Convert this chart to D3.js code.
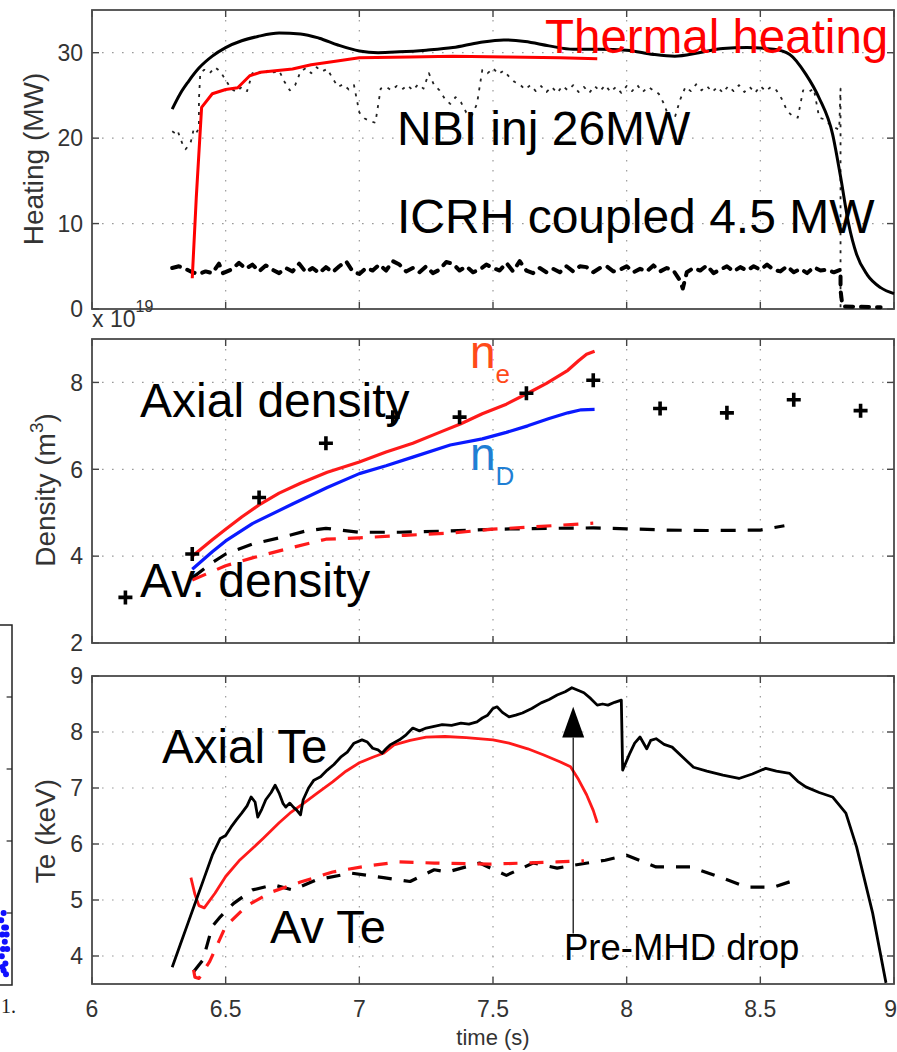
<!DOCTYPE html>
<html>
<head>
<meta charset="utf-8">
<script src="https://cdn.jsdelivr.net/npm/d3@7"></script>
<style>
body { margin: 0; background: #fff; }
svg text { font-family: "Liberation Sans", Arial, sans-serif; }
</style>
</head>
<body>
<div id="chart"></div>
<script>
// ---- data (time in s) ----
var timeTicks = [6, 6.5, 7, 7.5, 8, 8.5, 9];
var heatTicks = [0, 10, 20, 30];
var densTicks = [2, 4, 6, 8];
var teTicks = [4, 5, 6, 7, 8, 9];

// top panel: heating (MW)
var totalHeat = [[6.30,23.4],[6.33,25.2],[6.36,26.6],[6.40,28.2],[6.45,29.6],[6.50,30.6],[6.56,31.4],[6.62,31.9],[6.70,32.3],[6.78,32.2],[6.85,31.7],[6.92,30.9],[7.00,30.2],[7.07,30.0],[7.15,30.1],[7.25,30.3],[7.35,30.6],[7.45,31.2],[7.54,31.5],[7.62,31.3],[7.71,30.8],[7.80,30.4],[7.90,30.4],[8.00,30.3],[8.10,29.8],[8.18,29.6],[8.27,30.0],[8.36,30.5],[8.45,30.6],[8.55,30.4],[8.61,29.8],[8.67,27.5],[8.72,24.7],[8.77,20.5],[8.80,15.5],[8.83,10.0],[8.86,6.4],[8.90,4.0],[8.95,2.5],[9.00,1.8]];
var thermalHeat = [[6.375,3.6],[6.39,13.0],[6.41,23.6],[6.45,25.2],[6.50,25.7],[6.545,25.9],[6.59,27.3],[6.63,27.7],[6.75,28.1],[6.82,28.6],[6.93,29.1],[7.00,29.4],[7.19,29.5],[7.35,29.6],[7.55,29.5],[7.75,29.4],[7.89,29.3]];
var nbiInj = [[6.30,20.8],[6.31,20.6],[6.32,20.9],[6.33,20.0],[6.34,19.2],[6.35,18.7],[6.36,19.1],[6.37,19.6],[6.38,21.0],[6.39,20.6],[6.40,21.2],[6.40,24.5],[6.405,27.6],[6.42,28.0],[6.44,27.6],[6.46,28.3],[6.48,27.8],[6.50,26.8],[6.52,25.8],[6.54,25.4],[6.56,26.0],[6.58,25.5],[6.60,27.6],[6.62,27.9],[6.64,27.4],[6.66,28.0],[6.68,27.7],[6.70,27.9],[6.72,26.6],[6.74,25.6],[6.76,26.2],[6.78,27.8],[6.80,28.2],[6.82,27.6],[6.84,28.3],[6.86,27.8],[6.88,28.1],[6.90,27.0],[6.92,26.0],[6.94,26.3],[6.96,25.7],[6.98,26.2],[7.00,23.0],[7.02,22.3],[7.04,22.0],[7.06,21.8],[7.08,25.8],[7.10,26.0],[7.12,25.6],[7.14,26.1],[7.16,25.7],[7.18,26.2],[7.20,25.6],[7.22,26.3],[7.24,25.8],[7.26,27.6],[7.28,26.2],[7.30,25.6],[7.32,24.6],[7.34,24.0],[7.36,24.8],[7.38,24.2],[7.40,23.0],[7.42,22.6],[7.44,24.0],[7.46,28.0],[7.48,27.6],[7.50,28.2],[7.52,27.5],[7.54,27.9],[7.56,27.2],[7.58,26.6],[7.60,26.3],[7.62,25.7],[7.64,26.2],[7.66,25.5],[7.68,26.1],[7.70,25.4],[7.72,26.0],[7.74,25.3],[7.76,26.1],[7.78,25.6],[7.80,26.2],[7.82,25.4],[7.84,26.0],[7.86,25.3],[7.88,26.1],[7.90,25.5],[7.92,26.2],[7.94,25.4],[7.96,26.0],[7.98,25.3],[8.00,26.1],[8.02,25.5],[8.04,26.2],[8.06,25.4],[8.08,26.0],[8.10,25.6],[8.12,25.2],[8.14,24.0],[8.16,22.2],[8.18,22.4],[8.20,24.5],[8.22,26.0],[8.24,25.5],[8.26,26.3],[8.28,25.6],[8.30,26.1],[8.32,25.4],[8.34,26.0],[8.36,25.3],[8.38,26.1],[8.40,25.5],[8.42,26.2],[8.44,25.4],[8.46,26.0],[8.48,25.3],[8.50,26.1],[8.52,25.5],[8.54,26.0],[8.56,25.6],[8.58,24.6],[8.60,23.2],[8.62,22.6],[8.64,22.4],[8.66,25.6],[8.68,25.4],[8.70,25.8],[8.72,22.4],[8.74,22.2],[8.76,21.6],[8.78,21.2],[8.795,21.0],[8.80,25.8],[8.80,0.2]];
var icrhCoupled = [[6.30,4.8],[6.325,5.0],[6.35,4.7],[6.375,4.3],[6.40,4.1],[6.425,4.4],[6.45,4.2],[6.475,5.3],[6.49,4.2],[6.52,4.6],[6.55,5.4],[6.575,4.7],[6.60,5.2],[6.625,4.4],[6.65,5.1],[6.675,4.6],[6.70,4.2],[6.725,4.8],[6.75,4.4],[6.775,5.3],[6.80,4.3],[6.825,4.8],[6.85,4.2],[6.875,4.9],[6.90,4.3],[6.925,5.0],[6.95,5.6],[6.975,4.4],[7.00,4.1],[7.025,4.8],[7.05,4.5],[7.075,5.2],[7.10,4.5],[7.125,5.6],[7.15,5.2],[7.175,4.4],[7.20,4.8],[7.225,4.3],[7.25,5.0],[7.275,4.2],[7.30,4.6],[7.325,5.5],[7.35,5.3],[7.375,4.5],[7.40,5.0],[7.425,4.3],[7.45,4.6],[7.475,5.2],[7.50,4.8],[7.525,4.5],[7.55,5.4],[7.575,4.4],[7.60,5.6],[7.625,4.5],[7.65,4.2],[7.675,4.8],[7.70,4.3],[7.725,4.7],[7.75,4.3],[7.775,5.0],[7.80,4.4],[7.825,5.0],[7.85,4.9],[7.875,4.3],[7.90,4.8],[7.925,5.0],[7.95,4.4],[7.975,4.6],[8.00,5.0],[8.025,4.3],[8.05,4.7],[8.075,4.4],[8.10,5.1],[8.125,4.4],[8.15,4.8],[8.175,4.5],[8.20,3.3],[8.21,2.4],[8.225,4.3],[8.25,4.8],[8.275,4.5],[8.30,5.1],[8.325,4.2],[8.35,4.6],[8.375,5.0],[8.40,4.4],[8.425,4.9],[8.45,4.5],[8.475,5.0],[8.50,4.6],[8.525,5.2],[8.55,4.6],[8.575,4.4],[8.60,5.0],[8.625,4.3],[8.65,4.7],[8.675,4.2],[8.70,4.9],[8.725,4.5],[8.75,4.6],[8.775,4.3],[8.80,4.6],[8.80,2.2],[8.805,0.9],[8.81,0.3],[8.95,0.2]];

// middle panel: density (1e19 m^-3)
var neAxial = [[6.375,4.0],[6.45,4.38],[6.5,4.62],[6.56,4.9],[6.625,5.18],[6.7,5.45],[6.78,5.68],[6.88,5.93],[7.0,6.17],[7.1,6.4],[7.2,6.6],[7.3,6.85],[7.38,7.05],[7.46,7.28],[7.55,7.5],[7.63,7.75],[7.7,7.98],[7.78,8.28],[7.82,8.5],[7.85,8.65],[7.88,8.72]];
var nDAxial = [[6.375,3.7],[6.45,4.1],[6.5,4.35],[6.6,4.75],[6.75,5.2],[6.88,5.58],[7.0,5.9],[7.1,6.08],[7.2,6.28],[7.34,6.56],[7.46,6.7],[7.55,6.85],[7.63,7.0],[7.71,7.17],[7.78,7.3],[7.83,7.37],[7.88,7.38]];
var avDensBlack = [[6.375,3.5],[6.45,3.85],[6.5,4.05],[6.6,4.28],[6.72,4.45],[6.8,4.58],[6.875,4.64],[7.0,4.55],[7.15,4.55],[7.34,4.58],[7.5,4.62],[7.7,4.64],[7.875,4.65],[8.0,4.63],[8.15,4.6],[8.3,4.59],[8.5,4.6],[8.59,4.7]];
var avDensRed = [[6.375,3.45],[6.5,3.78],[6.6,3.96],[6.75,4.2],[6.875,4.39],[7.0,4.42],[7.17,4.48],[7.34,4.53],[7.5,4.62],[7.72,4.7],[7.875,4.76]];
var crossTime = [6.125, 6.375, 6.625, 6.875, 7.125, 7.375, 7.625, 7.875, 8.125, 8.375, 8.625, 8.875];
var crossDens = [3.05, 4.05, 5.35, 6.6, 7.2, 7.2, 7.75, 8.05, 7.4, 7.3, 7.6, 7.35];

// bottom panel: Te (keV)
var teAxial = [[6.30,3.8],[6.33,4.2],[6.36,4.6],[6.39,5.0],[6.42,5.4],[6.45,5.8],[6.48,6.1],[6.50,6.15],[6.52,6.3],[6.54,6.43],[6.56,6.55],[6.58,6.68],[6.595,6.84],[6.61,6.75],[6.62,6.48],[6.635,6.62],[6.65,6.79],[6.67,6.92],[6.685,7.05],[6.70,6.91],[6.715,6.72],[6.725,6.66],[6.74,6.73],[6.755,6.65],[6.765,6.61],[6.78,6.52],[6.79,6.79],[6.81,7.0],[6.83,7.14],[6.855,7.2],[6.88,7.32],[6.905,7.42],[6.93,7.55],[6.955,7.64],[6.98,7.8],[7.01,7.86],[7.03,7.82],[7.05,7.71],[7.07,7.68],[7.085,7.62],[7.10,7.7],[7.115,7.77],[7.15,7.86],[7.175,7.95],[7.20,8.07],[7.225,8.02],[7.25,8.07],[7.28,8.1],[7.31,8.13],[7.345,8.12],[7.38,8.16],[7.41,8.14],[7.44,8.18],[7.46,8.25],[7.48,8.3],[7.50,8.42],[7.515,8.45],[7.535,8.35],[7.56,8.27],[7.585,8.3],[7.61,8.34],[7.645,8.42],[7.68,8.52],[7.71,8.58],[7.74,8.66],[7.77,8.72],[7.795,8.79],[7.82,8.74],[7.84,8.7],[7.865,8.6],[7.89,8.48],[7.91,8.5],[7.93,8.48],[7.955,8.53],[7.98,8.57],[7.985,7.32],[8.01,7.6],[8.03,7.8],[8.05,7.91],[8.075,7.7],[8.09,7.85],[8.11,7.88],[8.14,7.78],[8.17,7.73],[8.21,7.55],[8.25,7.37],[8.30,7.3],[8.36,7.23],[8.42,7.17],[8.47,7.25],[8.52,7.35],[8.56,7.3],[8.61,7.26],[8.64,7.12],[8.67,7.02],[8.72,6.92],[8.77,6.84],[8.82,6.55],[8.86,5.95],[8.92,4.77],[8.97,3.52]];
var teRed = [[6.37,5.4],[6.385,5.1],[6.40,4.9],[6.42,4.86],[6.46,5.12],[6.50,5.42],[6.55,5.7],[6.60,5.92],[6.64,6.1],[6.70,6.38],[6.74,6.55],[6.79,6.72],[6.84,6.9],[6.90,7.11],[6.95,7.3],[7.00,7.45],[7.05,7.55],[7.09,7.62],[7.13,7.77],[7.19,7.85],[7.25,7.91],[7.32,7.92],[7.40,7.9],[7.50,7.86],[7.56,7.8],[7.63,7.7],[7.69,7.59],[7.75,7.47],[7.79,7.38],[7.82,7.15],[7.85,6.88],[7.875,6.6],[7.89,6.38]];
var teAvBlack = [[6.38,3.72],[6.415,3.93],[6.45,4.53],[6.48,4.7],[6.53,4.94],[6.6,5.18],[6.68,5.27],[6.75,5.18],[6.84,5.36],[6.97,5.48],[7.09,5.4],[7.19,5.33],[7.28,5.54],[7.33,5.5],[7.45,5.66],[7.55,5.44],[7.65,5.66],[7.74,5.57],[7.8,5.62],[7.92,5.71],[8.0,5.8],[8.11,5.59],[8.24,5.59],[8.36,5.39],[8.45,5.23],[8.55,5.23],[8.62,5.34]];
var teAvRed = [[6.38,3.75],[6.385,3.62],[6.40,3.6],[6.44,3.9],[6.5,4.53],[6.58,4.9],[6.67,5.14],[6.78,5.32],[6.9,5.5],[7.03,5.61],[7.15,5.68],[7.28,5.66],[7.49,5.64],[7.74,5.68],[7.84,5.7]];
var mhdArrow = {time: 7.8, tip: 8.45, base: 7.9, foot: 4.4};

// ---- layout ----
var svgWidth = 897;
var svgHeight = 1052;
var left = 92, right = 894;

var svg = d3.select("#chart")
    .append("svg")
    .attr("width", svgWidth)
    .attr("height", svgHeight);

svg.append("rect")
    .attr("width", svgWidth)
    .attr("height", svgHeight)
    .attr("fill", "#fff");

var xScale = d3.scaleLinear().domain([6, 9]).range([left, right]);
var yHeat = d3.scaleLinear().domain([0, 35]).range([309, 10]);
var yDens = d3.scaleLinear().domain([2, 9]).range([643, 339]);
var yTe = d3.scaleLinear().domain([3.5, 9]).range([984, 676]);

function drawFrame(yScale, yTicks) {
    var top = yScale.range()[1], bottom = yScale.range()[0];
    var g = svg.append("g");
    // dotted grid
    timeTicks.filter(t => xScale(t) > left + 1 && xScale(t) < right - 1).forEach(function(t) {
        g.append("line")
            .attr("x1", xScale(t)).attr("x2", xScale(t))
            .attr("y1", top).attr("y2", bottom)
            .attr("stroke", "#9a9a9a").attr("stroke-width", 1.2)
            .attr("stroke-dasharray", "1.6,8.4");
    });
    yTicks.filter(v => yScale(v) > top + 1 && yScale(v) < bottom - 1).forEach(function(v) {
        g.append("line")
            .attr("x1", left).attr("x2", right)
            .attr("y1", yScale(v)).attr("y2", yScale(v))
            .attr("stroke", "#9a9a9a").attr("stroke-width", 1.2)
            .attr("stroke-dasharray", "1.6,8.4");
    });
    // inward ticks
    timeTicks.forEach(function(t) {
        g.append("line").attr("x1", xScale(t)).attr("x2", xScale(t))
            .attr("y1", bottom).attr("y2", bottom - 7).attr("stroke", "#444").attr("stroke-width", 1.4);
        g.append("line").attr("x1", xScale(t)).attr("x2", xScale(t))
            .attr("y1", top).attr("y2", top + 7).attr("stroke", "#444").attr("stroke-width", 1.4);
    });
    yTicks.forEach(function(v) {
        g.append("line").attr("x1", left).attr("x2", left + 7)
            .attr("y1", yScale(v)).attr("y2", yScale(v)).attr("stroke", "#444").attr("stroke-width", 1.4);
        g.append("line").attr("x1", right).attr("x2", right - 7)
            .attr("y1", yScale(v)).attr("y2", yScale(v)).attr("stroke", "#444").attr("stroke-width", 1.4);
        g.append("text")
            .attr("x", left - 9).attr("y", yScale(v))
            .attr("dy", "0.36em")
            .attr("text-anchor", "end")
            .attr("fill", "#333")
            .style("font-size", "23px")
            .text(v);
    });
    g.append("rect")
        .attr("x", left).attr("y", top)
        .attr("width", right - left).attr("height", bottom - top)
        .attr("fill", "none").attr("stroke", "#4a4a4a").attr("stroke-width", 1.8);
    return g;
}

function drawLine(data, yScale, color, width, dash, curve) {
    var line = d3.line()
        .x(d => xScale(d[0]))
        .y(d => yScale(d[1]))
        .curve(curve || d3.curveLinear);
    var p = svg.append("path")
        .datum(data)
        .attr("d", line)
        .attr("fill", "none")
        .attr("stroke", color)
        .attr("stroke-width", width)
        .attr("stroke-linejoin", "round");
    if (dash) p.attr("stroke-dasharray", dash);
    return p;
}

// ---- panel 1: heating ----
drawFrame(yHeat, heatTicks);
drawLine(nbiInj, yHeat, "#222", 1.8, "3,6");
drawLine(icrhCoupled, yHeat, "#000", 4, "8,8").attr("stroke-linecap", "round");
drawLine(totalHeat, yHeat, "#000", 3, null, d3.curveMonotoneX);
drawLine(thermalHeat, yHeat, "#ff0000", 3);

svg.append("text").attr("x", 397).attr("y", 145)
    .style("font-size", "48px").attr("fill", "#000").text("NBI inj 26MW");
svg.append("text").attr("x", 397).attr("y", 233)
    .style("font-size", "48px").attr("fill", "#000").text("ICRH coupled 4.5 MW");
svg.append("text").attr("x", 545).attr("y", 53)
    .style("font-size", "47.5px").attr("fill", "#ff0000").text("Thermal heating");

svg.append("text")
    .attr("transform", "translate(43,159) rotate(-90)")
    .attr("text-anchor", "middle")
    .attr("fill", "#333")
    .style("font-size", "28px")
    .text("Heating (MW)");

// exponent label of density axis
var expo = svg.append("text").attr("x", 92).attr("y", 327).attr("fill", "#333").style("font-size", "23px");
expo.append("tspan").text("x 10");
expo.append("tspan").attr("dy", -15).style("font-size", "16px").text("19");

// ---- panel 2: density ----
drawFrame(yDens, densTicks);
drawLine(avDensBlack, yDens, "#000", 3.2, "15,12");
drawLine(avDensRed, yDens, "#ff1a1a", 3.2, "15,12");
drawLine(nDAxial, yDens, "#0a1aff", 3.2);
drawLine(neAxial, yDens, "#ff1a1a", 3.2);

var crossData = crossTime.map((t, i) => [t, crossDens[i]]);
svg.append("g").selectAll("path")
    .data(crossData)
    .enter()
    .append("path")
    .attr("d", d => `M${xScale(d[0]) - 7},${yDens(d[1])}h14M${xScale(d[0])},${yDens(d[1]) - 7}v14`)
    .attr("stroke", "#000")
    .attr("stroke-width", 3.6);

svg.append("text").attr("x", 140).attr("y", 417)
    .style("font-size", "48px").attr("fill", "#000").text("Axial density");
svg.append("text").attr("x", 140).attr("y", 597)
    .style("font-size", "48px").attr("fill", "#000").text("Av. density");

var neLab = svg.append("text").attr("x", 470).attr("y", 368).attr("fill", "#ff4a1a").style("font-size", "46px");
neLab.append("tspan").text("n");
neLab.append("tspan").attr("dy", 15).style("font-size", "26px").text("e");
var ndLab = svg.append("text").attr("x", 470).attr("y", 470).attr("fill", "#1f7fd4").style("font-size", "46px");
ndLab.append("tspan").text("n");
ndLab.append("tspan").attr("dy", 15).style("font-size", "26px").text("D");

var dLab = svg.append("text")
    .attr("transform", "translate(55,490) rotate(-90)")
    .attr("text-anchor", "middle")
    .attr("fill", "#333")
    .style("font-size", "28px");
dLab.append("tspan").text("Density (m");
dLab.append("tspan").attr("dy", -12).style("font-size", "19px").text("3");
dLab.append("tspan").attr("dy", 12).text(")");

// ---- panel 3: Te ----
drawFrame(yTe, teTicks);
drawLine(teAvBlack, yTe, "#000", 3.2, "14,12");
drawLine(teAvRed, yTe, "#ff1a1a", 3.2, "14,12");
drawLine(teRed, yTe, "#ff1a1a", 2.8);
drawLine(teAxial, yTe, "#000", 2.8);

// pre-MHD arrow
svg.append("line")
    .attr("x1", xScale(mhdArrow.time)).attr("x2", xScale(mhdArrow.time))
    .attr("y1", yTe(mhdArrow.foot)).attr("y2", yTe(mhdArrow.base))
    .attr("stroke", "#000").attr("stroke-width", 1.2);
svg.append("path")
    .attr("d", `M${xScale(mhdArrow.time)},${yTe(mhdArrow.tip)}L${xScale(mhdArrow.time) + 11},${yTe(mhdArrow.base)}L${xScale(mhdArrow.time) - 11},${yTe(mhdArrow.base)}Z`)
    .attr("fill", "#000");

svg.append("text").attr("x", 162).attr("y", 763)
    .style("font-size", "47.5px").attr("fill", "#000").text("Axial Te");
svg.append("text").attr("x", 270).attr("y", 943)
    .style("font-size", "47px").attr("fill", "#000").text("Av Te");
svg.append("text").attr("x", 564).attr("y", 960)
    .style("font-size", "36.5px").attr("fill", "#000").text("Pre-MHD drop");

svg.append("text")
    .attr("transform", "translate(55,831) rotate(-90)")
    .attr("text-anchor", "middle")
    .attr("fill", "#333")
    .style("font-size", "28px")
    .text("Te (keV)");

// x tick labels and title
svg.append("g").selectAll("text")
    .data(timeTicks)
    .enter()
    .append("text")
    .attr("x", d => d === 9 ? svgWidth : xScale(d))
    .attr("y", 1017)
    .attr("text-anchor", d => d === 9 ? "end" : "middle")
    .attr("fill", "#333")
    .style("font-size", "23px")
    .text(d => d);
svg.append("text")
    .attr("x", (left + right) / 2).attr("y", 1045)
    .attr("text-anchor", "middle")
    .attr("fill", "#333")
    .style("font-size", "22px")
    .text("time (s)");

// ---- fragment of the neighbouring figure on the left edge ----
var fragTicks = [0.2, 0.4, 0.6, 0.8];
var fragBlue = [[0.1,0.82],[0.3,0.8],[0.5,0.84],[0.2,0.86],[0.4,0.88],[0.6,0.9],[0.15,0.92],[0.45,0.94],[0.3,0.96],[0.55,0.86],[0.25,0.9],[0.5,0.97],[0.35,0.84],[0.2,0.95]];
var fx = d3.scaleLinear().domain([0, 1]).range([0, 12]);
var fy = d3.scaleLinear().domain([0, 1]).range([625, 985]);
var frag = svg.append("g");
frag.append("path")
    .attr("d", `M0,${fy(0)}H${fx(1)}V${fy(1)}H0`)
    .attr("fill", "none").attr("stroke", "#222").attr("stroke-width", 1.5);
frag.selectAll(".ft").data(fragTicks).enter().append("line")
    .attr("x1", fx(0.55)).attr("x2", fx(1))
    .attr("y1", d => fy(d)).attr("y2", d => fy(d))
    .attr("stroke", "#222").attr("stroke-width", 1.2);
frag.selectAll("circle").data(fragBlue).enter().append("circle")
    .attr("cx", d => fx(d[0])).attr("cy", d => fy(d[1]))
    .attr("r", 3).attr("fill", "#1010ff");
frag.append("text").attr("x", 1).attr("y", 1013)
    .style("font-family", "Liberation Serif, serif").style("font-size", "20px").attr("fill", "#222").text("1.");
</script>
</body>
</html>
